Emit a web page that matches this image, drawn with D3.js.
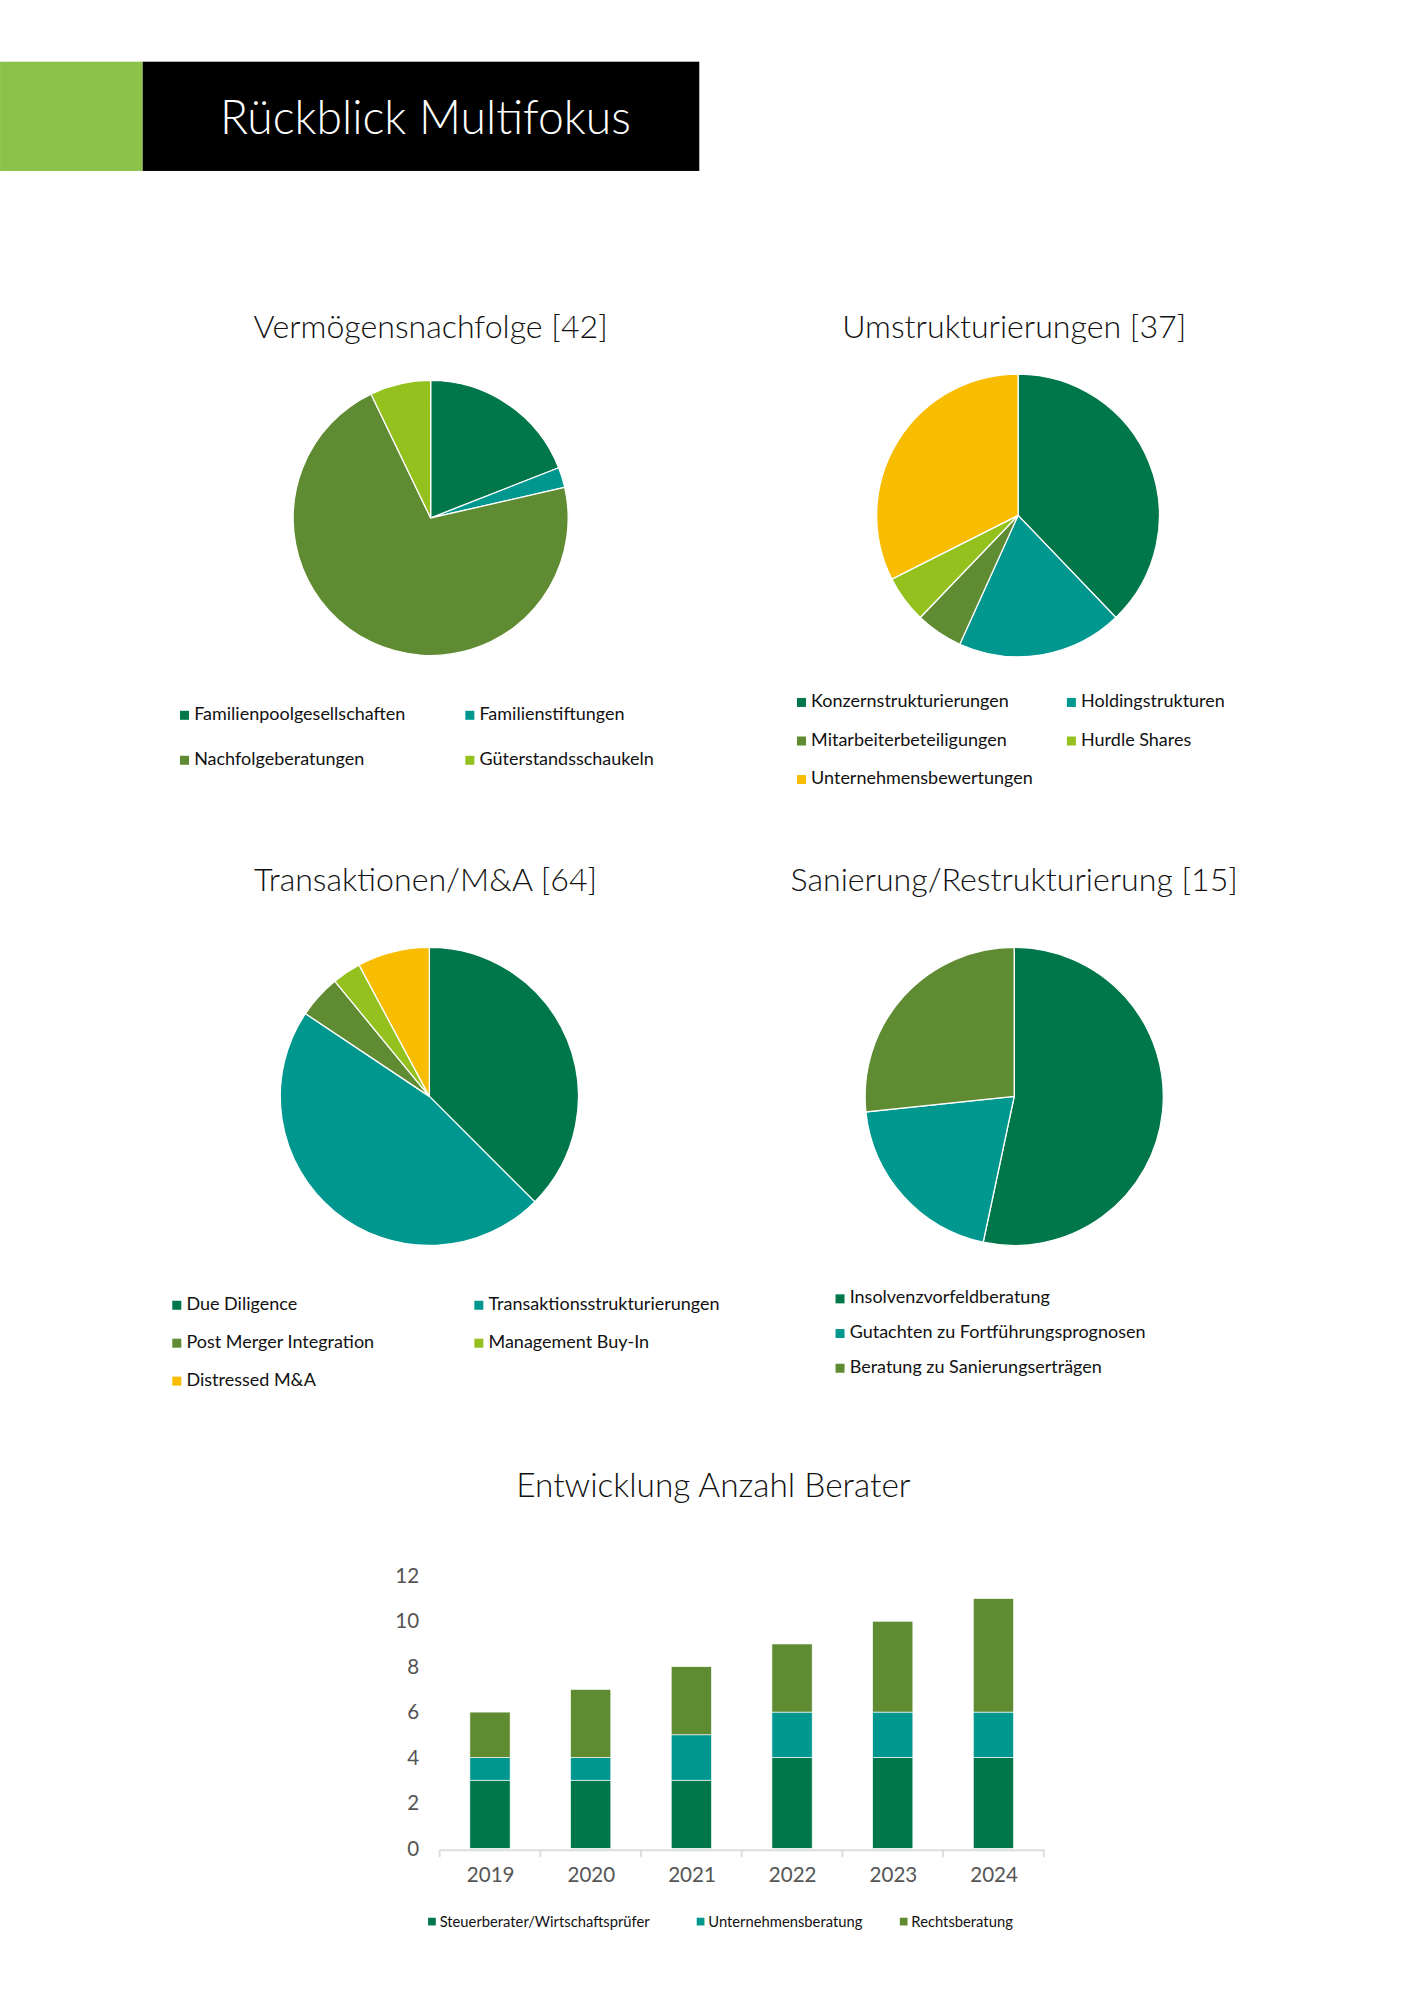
<!DOCTYPE html>
<html>
<head>
<meta charset="utf-8">
<script src="https://cdn.jsdelivr.net/npm/d3@7"></script>
<style>
  body { margin: 0; background: #fff; }
  text { font-family: Lato, "Open Sans", sans-serif; }
</style>
</head>
<body>
<div id="chart"></div>
<script>
// colours
const C = { dark: "#00774A", teal: "#00978F", olive: "#5F8B33", lime: "#95C11F", yellow: "#F8BC00" };

// pie data
const vnLabels = ["Familienpoolgesellschaften", "Familienstiftungen", "Nachfolgeberatungen", "Güterstandsschaukeln"];
const vnValues = [8, 1, 30, 3];
const umLabels = ["Konzernstrukturierungen", "Holdingstrukturen", "Mitarbeiterbeteiligungen", "Hurdle Shares", "Unternehmensbewertungen"];
const umValues = [14, 7, 2, 2, 12];
const trLabels = ["Due Diligence", "Transaktionsstrukturierungen", "Post Merger Integration", "Management Buy-In", "Distressed M&A"];
const trValues = [24, 30, 3, 2, 5];
const saLabels = ["Insolvenzvorfeldberatung", "Gutachten zu Fortführungsprognosen", "Beratung zu Sanierungserträgen"];
const saValues = [8, 3, 4];

// bar data
const years = ["2019", "2020", "2021", "2022", "2023", "2024"];
const seriesNames = ["Steuerberater/Wirtschaftsprüfer", "Unternehmensberatung", "Rechtsberatung"];
const steuer = [3, 3, 3, 4, 4, 4];
const unternehmen = [1, 1, 2, 2, 2, 2];
const recht = [2, 3, 3, 3, 4, 5];

// drawing in a 1100 x 1556 coordinate space scaled to the window
const svg = d3.select("#chart").append("svg")
  .attr("width", 1414).attr("height", 2000)
  .attr("viewBox", "0 0 1100 1556");

// header
svg.append("rect").attr("x", 0).attr("y", 48).attr("width", 111).attr("height", 85).attr("fill", "#8BC249");
svg.append("rect").attr("x", 111).attr("y", 48).attr("width", 433).attr("height", 85).attr("fill", "#000");
svg.append("text").attr("x", 331).attr("y", 104).attr("text-anchor", "middle")
  .attr("fill", "#fff").attr("font-size", 36).attr("font-weight", 300).text("Rückblick Multifokus");

function pie(cfg) {
  const g = svg.append("g");
  g.append("text").attr("x", cfg.tx).attr("y", cfg.ty).attr("text-anchor", "middle")
    .attr("font-size", 25).attr("font-weight", 300).attr("fill", "#111").text(cfg.title);
  const arcs = d3.pie().sort(null)(cfg.values);
  const arc = d3.arc().innerRadius(0).outerRadius(cfg.r);
  g.append("g").attr("transform", `translate(${cfg.cx},${cfg.cy})`)
    .selectAll("path").data(arcs).enter().append("path")
    .attr("d", arc).attr("fill", (d, i) => cfg.colors[i])
    .attr("stroke", "#fff").attr("stroke-width", 1);
  const lg = g.append("g");
  cfg.labels.forEach((l, i) => {
    const col = i % cfg.cols, row = Math.floor(i / cfg.cols);
    const x = cfg.lx + col * cfg.colW, y = cfg.ly + row * cfg.rowH;
    lg.append("rect").attr("x", x).attr("y", y - 7).attr("width", 7).attr("height", 7).attr("fill", cfg.colors[i]);
    lg.append("text").attr("x", x + 11).attr("y", y).attr("font-size", 14).attr("fill", "#111").text(l);
  });
}

pie({ title: "Vermögensnachfolge [42]", tx: 335, ty: 263, cx: 335, cy: 403, r: 107,
  values: vnValues, labels: vnLabels, colors: [C.dark, C.teal, C.olive, C.lime],
  lx: 140, ly: 560, cols: 2, colW: 222, rowH: 35 });
pie({ title: "Umstrukturierungen [37]", tx: 789, ty: 263, cx: 792, cy: 401, r: 110,
  values: umValues, labels: umLabels, colors: [C.dark, C.teal, C.olive, C.lime, C.yellow],
  lx: 620, ly: 550, cols: 2, colW: 210, rowH: 30 });
pie({ title: "Transaktionen/M&A  [64]", tx: 331, ty: 693, cx: 334, cy: 853, r: 116,
  values: trValues, labels: trLabels, colors: [C.dark, C.teal, C.olive, C.lime, C.yellow],
  lx: 134, ly: 1019, cols: 2, colW: 235, rowH: 29.5 });
pie({ title: "Sanierung/Restrukturierung [15]", tx: 789, ty: 693, cx: 789, cy: 853, r: 116,
  values: saValues, labels: saLabels, colors: [C.dark, C.teal, C.olive],
  lx: 650, ly: 1014, cols: 1, colW: 0, rowH: 27 });

// stacked bar chart
svg.append("text").attr("x", 555).attr("y", 1165).attr("text-anchor", "middle")
  .attr("font-size", 26).attr("font-weight", 300).attr("fill", "#111").text("Entwicklung Anzahl Berater");

const x = d3.scaleBand().domain(years).range([342, 812]).paddingInner(0.6).paddingOuter(0.3);
const y = d3.scaleLinear().domain([0, 12]).range([1438, 1226]);
const table = years.map((yr, i) => ({ year: yr, s: steuer[i], u: unternehmen[i], r: recht[i] }));
const stacked = d3.stack().keys(["s", "u", "r"])(table);
const barCols = [C.dark, C.teal, C.olive];

svg.append("g").selectAll("g").data(stacked).enter().append("g")
  .attr("fill", (d, i) => barCols[i])
  .selectAll("rect").data(d => d).enter().append("rect")
  .attr("x", d => x(d.data.year)).attr("width", x.bandwidth())
  .attr("y", d => y(d[1])).attr("height", d => y(d[0]) - y(d[1]))
  .attr("stroke", "#fff").attr("stroke-width", 0.5);

const yAxis = svg.append("g").attr("transform", "translate(326,0)")
  .call(d3.axisLeft(y).tickValues(d3.range(0, 13, 2)).tickSize(0).tickPadding(0));
yAxis.select(".domain").remove();
yAxis.selectAll("text").attr("font-size", 16).attr("fill", "#555");

const xAxis = svg.append("g").attr("transform", "translate(0,1439)")
  .call(d3.axisBottom(d3.scalePoint().domain(years).range([342, 812]).padding(0.5)).tickSize(0).tickPadding(14));
xAxis.select(".domain").attr("stroke", "#ddd").attr("stroke-width", 1.5);
xAxis.selectAll("text").attr("font-size", 16).attr("fill", "#555");
// category separator ticks
const bounds = d3.range(0, years.length + 1).map(i => 342 + i * (470 / years.length));
svg.append("g").selectAll("line").data(bounds).enter().append("line")
  .attr("x1", d => d).attr("x2", d => d).attr("y1", 1439).attr("y2", 1445)
  .attr("stroke", "#ddd").attr("stroke-width", 1.5);

const legX = [333, 542, 700];
seriesNames.forEach((n, i) => {
  svg.append("rect").attr("x", legX[i]).attr("y", 1492).attr("width", 6).attr("height", 6).attr("fill", barCols[i]);
  svg.append("text").attr("x", legX[i] + 9).attr("y", 1499).attr("font-size", 11.5).attr("fill", "#111").text(n);
});
</script>
</body>
</html>
